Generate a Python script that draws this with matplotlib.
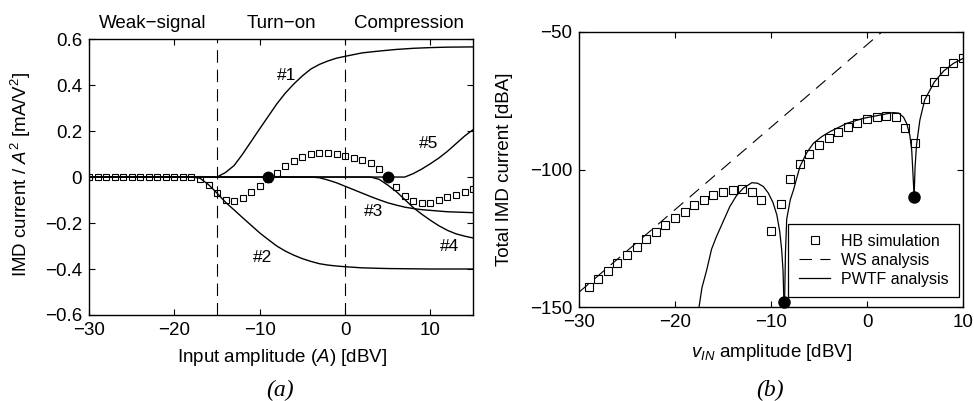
import matplotlib
matplotlib.use("Agg")
import matplotlib.pyplot as plt

plt.rcParams.update({
    "font.family": "Liberation Sans",
    "font.size": 13.5,
    "mathtext.fontset": "custom",
    "mathtext.rm": "Liberation Sans",
    "mathtext.it": "Liberation Sans:italic",
    "axes.linewidth": 1.0,
    "xtick.direction": "in",
    "ytick.direction": "in",
    "xtick.top": True,
    "ytick.right": True,
    "xtick.major.size": 4,
    "ytick.major.size": 4,
    "xtick.major.pad": 5,
    "ytick.major.pad": 5,
    "lines.scale_dashes": False,
})

# ---- (a) IMD current per mechanism vs. input amplitude ----
hb_a_x = list(range(-30, 16))
hb_a_y = [0.0] * 13 + [
    -0.010, -0.033, -0.070, -0.101, -0.104, -0.090, -0.066, -0.039,
    -0.010, 0.019, 0.048, 0.068, 0.087, 0.100, 0.106, 0.105, 0.099,
    0.093, 0.081, 0.073, 0.061, 0.033, 0.0, -0.043, -0.083, -0.104,
    -0.111, -0.111, -0.101, -0.087, -0.077, -0.065, -0.054,
]

c1_x = [-30, -15, -14, -13, -12, -11, -10, -9, -8, -7, -6, -5, -4, -3,
        -2, -1, 0, 2, 4, 6, 8, 10, 12, 15]
c1_y = [0, 0, 0.02, 0.05, 0.10, 0.155, 0.21, 0.264, 0.318, 0.365, 0.405,
        0.44, 0.47, 0.49, 0.505, 0.517, 0.525, 0.54, 0.548, 0.555, 0.56,
        0.563, 0.565, 0.566]

c2_x = [-30, -18, -17, -16, -15, -14, -13, -12, -11, -10, -9, -8, -7, -6,
        -5, -4, -3, -2, -1, 0, 2, 5, 10, 15]
c2_y = [0, 0, -0.005, -0.033, -0.07, -0.11, -0.143, -0.177, -0.21, -0.243,
        -0.272, -0.30, -0.322, -0.34, -0.355, -0.367, -0.377, -0.383,
        -0.387, -0.39, -0.395, -0.398, -0.40, -0.40]

c3_x = [-30, -4, -3, -2, -1, 0, 1, 2, 3, 4, 5, 6, 7, 8, 9, 10, 12, 15]
c3_y = [0, 0, -0.003, -0.013, -0.025, -0.04, -0.055, -0.07, -0.085,
        -0.099, -0.112, -0.122, -0.131, -0.137, -0.142, -0.145, -0.151,
        -0.155]

c4_x = [-30, 3, 4, 5, 6, 7, 8, 9, 10, 11, 12, 13, 14, 15]
c4_y = [0, 0, -0.01, -0.035, -0.063, -0.098, -0.133, -0.162, -0.188,
        -0.212, -0.232, -0.247, -0.257, -0.265]

c5_x = [-30, 7, 8, 9, 10, 11, 12, 13, 14, 15]
c5_y = [0, 0, 0.015, 0.035, 0.058, 0.083, 0.112, 0.145, 0.178, 0.206]

curve_labels = ["#1", "#2", "#3", "#4", "#5"]
label_x = [-6.8, -9.7, 3.3, 12.3, 9.8]
label_y = [0.44, -0.35, -0.15, -0.30, 0.145]

zero_x = [-9, 5]
zero_y = [0, 0]
region_x = [-15, 0]
region_names = ["Weak\u2212signal", "Turn\u2212on", "Compression"]
region_mid = [-22.5, -7.5, 7.5]

# ---- (b) total IMD current ----
hb_b_x = list(range(-29, 11))
hb_b_y = [
    -142.6, -139.7, -136.8, -133.9, -131.1, -128.2, -125.4, -122.7,
    -120.1, -117.8, -115.3, -113.0, -111.1, -109.4, -108.2, -107.5,
    -107.1, -108.1, -111.0, -122.3, -112.5, -103.5, -98.1, -94.4, -91.2,
    -88.4, -86.4, -84.5, -83.1, -81.8, -81.0, -80.4, -80.9, -84.8, -90.5,
    -74.4, -68.1, -64.1, -61.4, -59.6,
]

ws_x = [-30, 10]
ws_y = [-144.6, -24.6]

# PWTF result has two lobes separated by the null near -8.7 dBV
pw1_x = [-17.5, -17.2, -16.7, -16.2, -15.7, -15.0, -14.3, -13.6, -12.9,
         -12.0, -11.4, -10.8, -10.3, -9.8, -9.4, -9.1, -8.9, -8.75, -8.65]
pw1_y = [-150, -143, -136.5, -129, -124.5, -119, -113.5, -109.5, -106.8,
         -104.8, -105, -106.2, -108.5, -112, -116.5, -122.5, -129, -137,
         -150]
pw2_x = [-8.6, -8.5, -8.37, -8.0, -7.67, -7.0, -6.3, -5.6, -4.7, -3.85,
         -2.1, -0.4, 1.35, 2.7, 3.3, 3.8, 4.15, 4.45, 4.65, 4.8, 4.9, 5.0,
         5.15, 5.5, 6.0, 7.0, 8.0, 9.0, 10.0]
pw2_y = [-150, -130, -118, -111, -107.5, -99, -94, -90.5, -88, -86.2,
         -83.2, -81.4, -80.2, -79.3, -79.5, -81, -83.5, -87.5, -93, -103,
         -110, -99, -91, -82, -74.7, -68.2, -64.1, -61.4, -59.6]

null_x = [-8.7, 4.9]
null_y = [-148, -110]

fig = plt.figure(figsize=(9.74, 4.01), dpi=100)
ax1 = fig.add_axes([0.0914, 0.2145, 0.3943, 0.688])
ax2 = fig.add_axes([0.5945, 0.2344, 0.3943, 0.6858])

# (a)
for xs, ys in [(c1_x, c1_y), (c2_x, c2_y), (c3_x, c3_y), (c4_x, c4_y),
               (c5_x, c5_y)]:
    ax1.plot(xs, ys, color="black", lw=1.0, zorder=3)
for xv in region_x:
    ax1.axvline(xv, color="black", lw=0.8, dashes=(9, 5), zorder=2)
ax1.plot(hb_a_x, hb_a_y, ls="none", marker="s", ms=4.2, mfc="none",
         mec="black", mew=0.8, zorder=4)
ax1.plot(zero_x, zero_y, ls="none", marker="o", ms=7.5, color="black",
         zorder=5)
for t, x, y in zip(curve_labels, label_x, label_y):
    ax1.text(x, y, t, ha="center", va="center", fontsize=12.5)
for t, x in zip(region_names, region_mid):
    ax1.text(x, 1.058, t, ha="center", va="center",
             transform=ax1.get_xaxis_transform())

ax1.set_xlim(-30, 15)
ax1.set_ylim(-0.6, 0.6)
ax1.set_xticks([-30, -20, -10, 0, 10])
ax1.set_yticks([-0.6, -0.4, -0.2, 0, 0.2, 0.4, 0.6])
ax1.set_yticklabels(["\u22120.6", "\u22120.4", "\u22120.2", "0", "0.2",
                     "0.4", "0.6"])
ax1.set_xlabel("Input amplitude ($A$) [dBV]")
ax1.set_ylabel("IMD current / $A^2$ [mA/V$^2$]")
ax1.xaxis.set_label_coords(0.502, -0.115)
ax1.yaxis.set_label_coords(-0.146, 0.51)

# (b)
ax2.plot(hb_b_x, hb_b_y, ls="none", marker="s", ms=5.5, mfc="none",
         mec="black", mew=0.8, label="HB simulation", zorder=4)
ax2.plot(ws_x, ws_y, color="black", lw=0.8, dashes=(9, 6),
         label="WS analysis", zorder=3)
ax2.plot(pw1_x, pw1_y, color="black", lw=0.9, label="PWTF analysis",
         zorder=3)
ax2.plot(pw2_x, pw2_y, color="black", lw=0.9, zorder=3)
ax2.plot(null_x, null_y, ls="none", marker="o", ms=8, color="black",
         zorder=5, clip_on=False)

ax2.set_xlim(-30, 10)
ax2.set_ylim(-150, -50)
ax2.set_xticks([-30, -20, -10, 0, 10])
ax2.set_yticks([-150, -100, -50])
ax2.set_xlabel("$v_{IN}$ amplitude [dBV]")
ax2.set_ylabel("Total IMD current [dBA]")
ax2.xaxis.set_label_coords(0.502, -0.128)
ax2.yaxis.set_label_coords(-0.172, 0.5)

leg = ax2.legend(
    loc="lower right", bbox_to_anchor=(0.989, 0.035), borderaxespad=0,
    fontsize=11.5, labelspacing=0.25, handlelength=2.0, handletextpad=0.65,
    borderpad=0.65, fancybox=False, framealpha=1, edgecolor="black",
)
leg.get_frame().set_linewidth(0.9)

fig.text(0.2875, 0.027, "(a)", ha="center", va="center",
         family="Liberation Serif", style="italic", fontsize=17)
fig.text(0.7906, 0.027, "(b)", ha="center", va="center",
         family="Liberation Serif", style="italic", fontsize=17)

fig.savefig("out.png", dpi=100)
